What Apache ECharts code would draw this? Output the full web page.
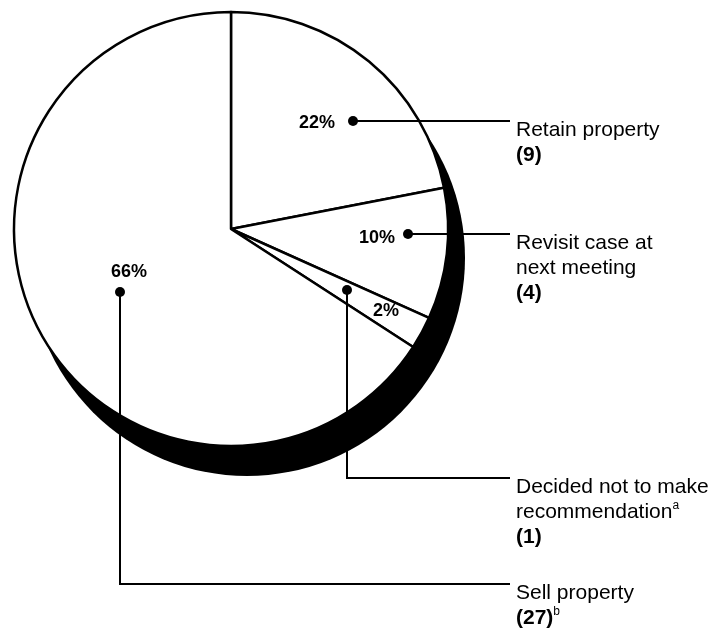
<!DOCTYPE html>
<html><head><meta charset="utf-8">
<script src="https://cdn.jsdelivr.net/npm/echarts@6/dist/echarts.min.js"></script>
<style>html,body{margin:0;padding:0;background:#fff}#c{width:716px;height:631px}</style>
</head><body><div id="c"></div>
<script>
// ---- data ----
const categories = ['Retain property', 'Revisit case at next meeting', 'Decided not to make recommendation', 'Sell property'];
const categoryLines = [['Retain property'], ['Revisit case at', 'next meeting'], ['Decided not to make', 'recommendation'], ['Sell property']];
const counts = [9, 4, 1, 27];
const footnotes = ['', '', 'a', 'b'];
const footnoteAfter = ['', '', 'name', 'count'];

// ---- annotation layout (pixels) ----
const dotPos = [[353, 121], [408, 234], [347, 290], [120, 292]];
const leaderY = [121, 234, 478, 584];
const pctPos = [[317, 123], [377, 238], [386, 311], [129, 272]];
const textX = 516, leaderEndX = 510;
const pieCenter = [231, 229];
const pieR = 217;
const shadowOffset = [16, 29];
const FONT = '"Liberation Sans", Arial, Helvetica, sans-serif';

const chart = echarts.init(document.getElementById('c'), null, { renderer: 'canvas' });
const data = categories.map((c, i) => ({ name: c, value: counts[i] }));
const total = counts.reduce((a, b) => a + b, 0);

function labelText(i) {
  const lines = categoryLines[i].map(t => '{n|' + t + '}');
  if (footnoteAfter[i] === 'name') lines[lines.length - 1] += '{s|' + footnotes[i] + '}';
  let cnt = '{b|(' + counts[i] + ')}';
  if (footnoteAfter[i] === 'count') cnt += '{s|' + footnotes[i] + '}';
  lines.push(cnt);
  return lines.join('\n');
}

const overlayBase = {
  type: 'pie', silent: true,
  center: pieCenter, radius: pieR, startAngle: 90, clockwise: true,
  avoidLabelOverlap: false,
  data: data,
  itemStyle: { color: 'rgba(0,0,0,0)', borderWidth: 0 },
  emphasis: { disabled: true }
};

chart.setOption({
  animation: false,
  backgroundColor: '#fff',
  series: [
    {
      type: 'pie', name: 'shadow', silent: true, z: 1,
      center: [pieCenter[0] + shadowOffset[0], pieCenter[1] + shadowOffset[1]],
      radius: pieR + 1, startAngle: 90,
      data: [{ name: 'shadow', value: total }],
      itemStyle: { color: '#000', borderWidth: 0 },
      label: { show: false }, labelLine: { show: false },
      emphasis: { disabled: true }
    },
    {
      type: 'pie', name: 'main', silent: true, z: 2,
      center: pieCenter, radius: pieR, startAngle: 90, clockwise: true,
      data: data,
      itemStyle: { color: '#fff', borderColor: '#000', borderWidth: 2.5 },
      emphasis: { disabled: true },
      label: { show: false }, labelLine: { show: false }
    },
    Object.assign({}, overlayBase, {
      name: 'labels', z: 5,
      label: {
        show: true, position: 'outside',
        formatter: p => labelText(p.dataIndex),
        rich: {
          n: { fontSize: 21, lineHeight: 25, fontFamily: FONT, color: '#000' },
          b: { fontSize: 21, lineHeight: 25, fontFamily: FONT, fontWeight: 'bold', color: '#000' },
          s: { fontSize: 12, lineHeight: 12, fontFamily: FONT, color: '#000', verticalAlign: 'top' }
        }
      },
      labelLine: { show: true, length: 5, length2: 5, smooth: false, lineStyle: { color: '#000', width: 2 } },
      labelLayout: p => {
        const i = p.dataIndex, d = dotPos[i], y = leaderY[i];
        return {
          x: textX, y: y - 3, align: 'left', verticalAlign: 'top',
          labelLinePoints: [[d[0], d[1]], [d[0], y], [leaderEndX, y]]
        };
      }
    }),
    Object.assign({}, overlayBase, {
      name: 'percent', z: 6, percentPrecision: 0,
      label: { show: true, position: 'inside', formatter: p => p.percent + '%', fontSize: 18, fontWeight: 'bold', color: '#000', fontFamily: FONT },
      labelLine: { show: false },
      labelLayout: p => ({ x: pctPos[p.dataIndex][0], y: pctPos[p.dataIndex][1], align: 'center', verticalAlign: 'middle' })
    }),
    Object.assign({}, overlayBase, {
      name: 'dots', z: 7,
      label: {
        show: true, position: 'inside', formatter: '{d| }',
        rich: { d: { width: 10, height: 10, lineHeight: 10, fontSize: 1, borderRadius: 5, backgroundColor: '#000', padding: 0 } }
      },
      labelLine: { show: false },
      labelLayout: p => ({ x: dotPos[p.dataIndex][0], y: dotPos[p.dataIndex][1], align: 'center', verticalAlign: 'middle' })
    })
  ]
});
</script>
</body></html>
